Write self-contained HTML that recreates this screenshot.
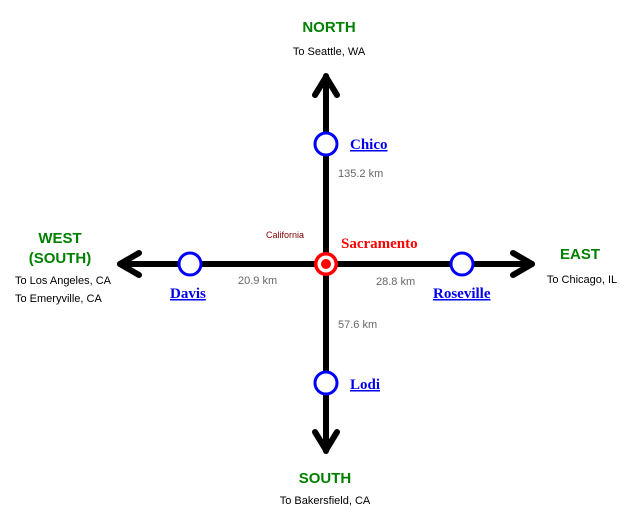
<!DOCTYPE html>
<html><head><meta charset="utf-8"><style>
html,body{margin:0;padding:0;background:#fff;}
svg{display:block;}
.dir{font-family:"Liberation Sans",sans-serif;font-size:15px;font-weight:bold;fill:#008000;}
.sm{font-family:"Liberation Sans",sans-serif;font-size:11px;fill:#000;}
.km{font-family:"Liberation Sans",sans-serif;font-size:11px;fill:#666;}
.city{font-family:"Liberation Serif",serif;font-size:15px;font-weight:bold;fill:#0000ee;text-decoration:underline;}
</style></head><body>
<svg width="634" height="522" viewBox="0 0 634 522">
<g stroke="#000" stroke-width="6" stroke-linecap="round" stroke-linejoin="round" fill="none">
<line x1="326" y1="76" x2="326" y2="451"/>
<line x1="120" y1="264" x2="532" y2="264"/>
<polyline points="315,95 326,77 337,95"/>
<polyline points="315,432 326,450 337,432"/>
<polyline points="139,253 120,264 139,275"/>
<polyline points="513,253 532,264 513,275"/>
</g>
<g fill="#fff" stroke="#0000ff" stroke-width="3">
<circle cx="326" cy="144" r="11"/>
<circle cx="326" cy="383" r="11"/>
<circle cx="190" cy="264" r="11"/>
<circle cx="462" cy="264" r="11"/>
</g>
<circle cx="326" cy="264" r="12" fill="#ff0000"/>
<circle cx="326" cy="264" r="8.5" fill="#fff"/>
<circle cx="326" cy="264" r="5" fill="#ff0000"/>
<text class="dir" x="329" y="32" text-anchor="middle">NORTH</text>
<text class="sm" x="329" y="55" text-anchor="middle">To Seattle, WA</text>
<text class="dir" x="325" y="483" text-anchor="middle">SOUTH</text>
<text class="sm" x="325" y="504" text-anchor="middle">To Bakersfield, CA</text>
<text class="dir" x="580" y="259" text-anchor="middle">EAST</text>
<text class="sm" x="582" y="283" text-anchor="middle">To Chicago, IL</text>
<text class="dir" x="60" y="243" text-anchor="middle">WEST</text>
<text class="dir" x="60" y="263" text-anchor="middle">(SOUTH)</text>
<text class="sm" x="15" y="284">To Los Angeles, CA</text>
<text class="sm" x="15" y="302">To Emeryville, CA</text>
<text class="city" x="350" y="149">Chico</text>
<text class="city" x="350" y="389">Lodi</text>
<text class="city" x="170" y="298">Davis</text>
<text class="city" x="433" y="298">Roseville</text>
<text x="341" y="248" style="font-family:'Liberation Serif',serif;font-size:15px;font-weight:bold;fill:#ff0000;">Sacramento</text>
<text x="266" y="238" style="font-family:'Liberation Sans',sans-serif;font-size:9px;fill:#800000;">California</text>
<text class="km" x="338" y="177">135.2 km</text>
<text class="km" x="238" y="284">20.9 km</text>
<text class="km" x="376" y="285">28.8 km</text>
<text class="km" x="338" y="328">57.6 km</text>
</svg>
</body></html>
